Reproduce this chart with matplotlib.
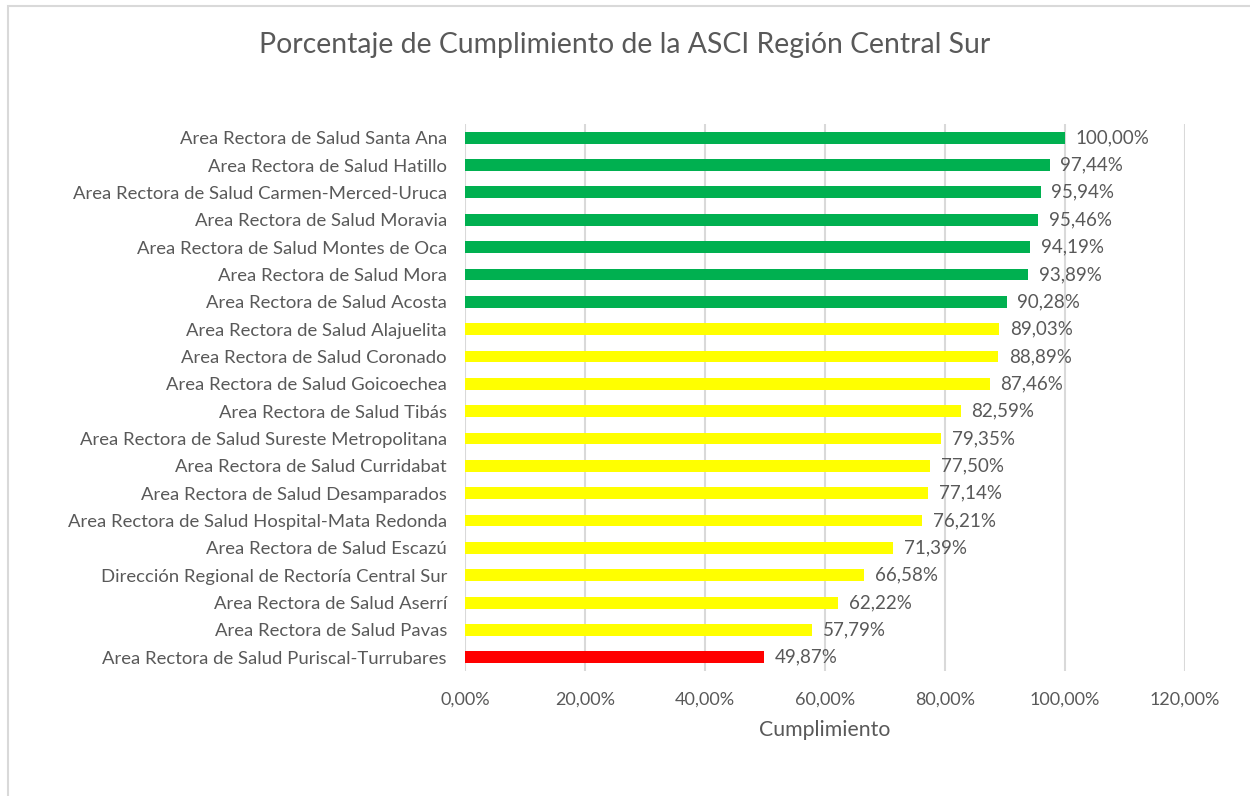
import matplotlib.pyplot as plt
from matplotlib.patches import Rectangle

# Data (top to bottom as shown in the chart)
areas = [
    'Area Rectora de Salud Santa Ana',
    'Area Rectora de Salud Hatillo',
    'Area Rectora de Salud Carmen-Merced-Uruca',
    'Area Rectora de Salud Moravia',
    'Area Rectora de Salud Montes de Oca',
    'Area Rectora de Salud Mora',
    'Area Rectora de Salud Acosta',
    'Area Rectora de Salud Alajuelita',
    'Area Rectora de Salud Coronado',
    'Area Rectora de Salud Goicoechea',
    'Area Rectora de Salud Tibás',
    'Area Rectora de Salud Sureste Metropolitana',
    'Area Rectora de Salud Curridabat',
    'Area Rectora de Salud Desamparados',
    'Area Rectora de Salud Hospital-Mata Redonda',
    'Area Rectora de Salud Escazú',
    'Dirección Regional de Rectoría Central Sur',
    'Area Rectora de Salud Aserrí',
    'Area Rectora de Salud Pavas',
    'Area Rectora de Salud Puriscal-Turrubares',
]
cumplimiento = [100.00, 97.44, 95.94, 95.46, 94.19, 93.89, 90.28, 89.03, 88.89, 87.46,
                82.59, 79.35, 77.50, 77.14, 76.21, 71.39, 66.58, 62.22, 57.79, 49.87]
x_ticks = [0, 20, 40, 60, 80, 100, 120]


def bar_color(v):
    if v >= 90:
        return '#00B050'
    if v >= 50:
        return '#FFFF00'
    return '#FF0000'


plt.rcParams['font.family'] = ['Lato', 'DejaVu Sans']
text_color = '#595959'

fig = plt.figure(figsize=(12.5, 7.96), dpi=100)
ax = fig.add_axes([465 / 1250, 1 - 671 / 796, 720 / 1250, 547 / 796])

# outer chart border
fig.patches.append(Rectangle((8 / 1250, -0.05), 1.1, 1 - 6 / 796 + 0.05,
                             transform=fig.transFigure, fill=False,
                             edgecolor='#D9D9D9', linewidth=1.5))

y_pos = list(range(len(areas)))
colors = [bar_color(v) for v in cumplimiento]
ax.barh(y_pos, cumplimiento, height=0.43, color=colors, zorder=3)

for y, v in zip(y_pos, cumplimiento):
    ax.text(v + 1.8, y, f'{v:.2f}%'.replace('.', ','), va='center', ha='left',
            fontsize=13.5, color=text_color)

ax.set_xlim(0, 120)
ax.set_ylim(len(areas) - 0.5, -0.5)
ax.set_xticks(x_ticks)
ax.set_xticklabels([f'{t:.2f}%'.replace('.', ',') for t in x_ticks])
ax.set_yticks(y_pos)
ax.set_yticklabels(areas)
ax.tick_params(axis='x', length=0, labelsize=13, labelcolor=text_color, pad=15)
ax.tick_params(axis='y', length=0, labelsize=13.3, labelcolor=text_color, pad=13)

ax.grid(axis='x', color='#D9D9D9', linewidth=1.5, zorder=0)
for s in ax.spines.values():
    s.set_visible(False)

ax.set_xlabel('Cumplimiento', fontsize=15.3, color=text_color, labelpad=9)
fig.text(0.5, 1 - 45 / 796, 'Porcentaje de Cumplimiento de la ASCI Región Central Sur',
         ha='center', va='center', fontsize=20.4, color=text_color)

fig.savefig('out.png', dpi=100)
